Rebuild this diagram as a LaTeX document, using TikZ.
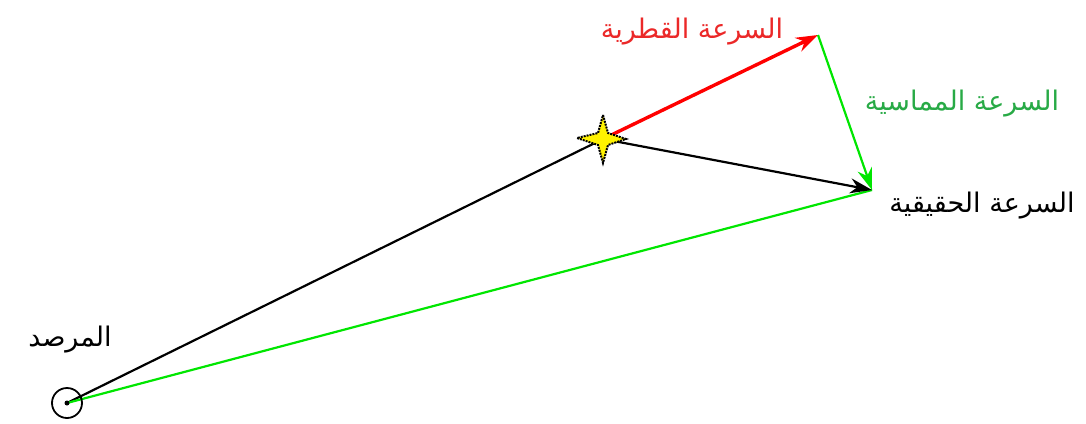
\documentclass[tikz,border=0pt]{standalone}
\usepackage{fontspec}
\TeXXeTstate=1
\newfontfamily\arabicfont[Script=Arabic]{DejaVu Sans}
\usetikzlibrary{arrows.meta}
\definecolor{linegreen}{RGB}{0,230,0}
\definecolor{labelgreen}{RGB}{40,170,70}
\definecolor{labelred}{RGB}{235,40,40}
\tikzset{
  vec/.style={line width=2.2pt,-{Stealth[length=22pt,width=15pt]}},
  plain/.style={line width=2.2pt},
  lbl/.style={font=\arabicfont\fontsize{27}{30}\selectfont, inner sep=0pt}
}
\begin{document}
\begin{tikzpicture}[x=1pt,y=-1pt]
\useasboundingbox (0,0) rectangle (1086,423);
\coordinate (obs) at (67,403);
\coordinate (star) at (603,139);
\coordinate (rad) at (818,35);
\coordinate (true) at (872,190);
% lines
\draw[plain,black] (obs) -- (star);
\draw[plain,linegreen] (obs) -- (true);
\draw[vec,black] (star) -- (true);
\draw[vec,red,line width=3.4pt] (star) -- (rad);
\draw[vec,linegreen] (rad) -- (true);
% observer
\node[circle,draw,line width=1.8pt,minimum size=30pt,inner sep=0pt] (obscirc) at (obs) {};
\fill (obs) circle (2.5pt);
% star
\filldraw[fill=yellow,draw=black,densely dotted,line width=2pt]
  (603,115) -- (608,133) -- (626,139) -- (608,145) -- (603,163) -- (598,145) -- (577,138) -- (598,133) -- cycle;
% labels
\node[lbl,text=labelred] (lrad) at (692,32) {\beginR السرعة القطرية\endR};
\node[lbl,text=labelgreen] (ltan) at (962,104) {\beginR السرعة المماسية\endR};
\node[lbl,text=black] (ltrue) at (982,206) {\beginR السرعة الحقيقية\endR};
\node[lbl,text=black] (lobs) at (70,340) {\beginR المرصد\endR};
\end{tikzpicture}
\end{document}
